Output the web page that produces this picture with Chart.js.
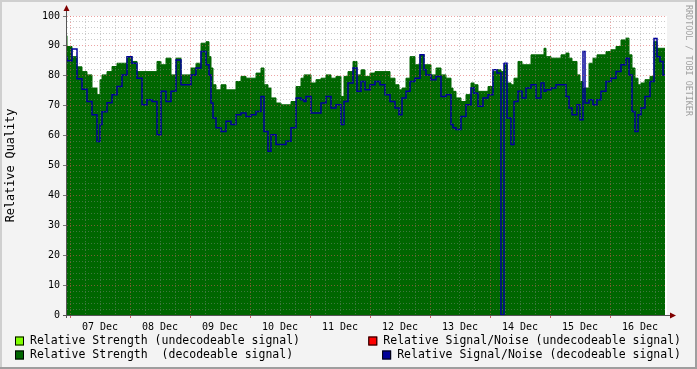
<!DOCTYPE html>
<html>
<head>
<meta charset="utf-8">
<script src="https://cdn.jsdelivr.net/npm/chart.js@4/dist/chart.umd.min.js"></script>
<style>
  html, body { margin: 0; padding: 0; background: #f3f3f3; }
  #wrap { width: 697px; height: 369px; position: relative; }
</style>
</head>
<body>
<div id="wrap"><canvas id="myChart"></canvas></div>
<script>
// hours since 07 Dec 00:00
const hours = [
  -1.2, 0.8, 2.8, 4.8, 6.8, 8.8, 10.8, 12, 12.8, 14.8, 16.8, 18.8, 20.8, 22.8,
  24.8, 26.8, 28.8, 30.8, 32.8, 34.8, 36.4, 38.4, 40.4, 42.4, 44.4, 46.4,
  48.4, 50.4, 52.4, 54.4, 55.6, 56.4, 57.2, 58.4, 60.4, 62.4, 64.4, 66.4, 68.4, 70.4,
  72.4, 74.4, 76.4, 77.6, 79.2, 80.4, 82.4, 84.4, 86.4, 88.4, 90.4, 92.4, 93.6, 94.4,
  96.4, 98.4, 100.4, 102.4, 104.4, 106.4, 108.4, 109.6, 111.2, 113.2, 114.8, 116.4, 118,
  120, 122, 124, 126, 128, 130, 131.6, 132.8, 134.4, 136, 138, 140, 141.6, 142.4,
  144.4, 146.4, 148.4, 150.4, 152.4, 153.2, 154.4, 156.4, 158.4, 160.4, 161.6, 163.2, 165.2,
  167.2, 169.2, 170.8, 172.4, 173.6, 173.8, 174.8, 176.4, 177.6, 179.2, 180.8, 182.4, 184.4,
  186.4, 188.4, 189.6, 190.4, 192.4, 194.4, 196.4, 198.4, 199.6, 200.8, 202.8, 204, 205.2,
  206, 207.6, 209.2, 210.8, 212.4, 214.4, 216.4, 218.4, 220.4, 222.4, 223.6, 224.8, 226,
  227.2, 228.4, 230, 232, 233.6, 234.8, 236, 237.2, 238
];

const strengthDecodeable = [
  93.4, 89.8, 86.4, 83, 81.4, 80.3, 75.9, 73.7, 78.7, 80.3, 81.4, 83.1, 84.2, 84.2,
  86.4, 84.8, 81.4, 81.4, 81.4, 81.4, 84.8, 83.7, 85.9, 80.3, 85.9, 80.3,
  80.3, 82.6, 84.2, 90.9, 91.4, 86.4, 82.6, 77, 75.3, 77, 75.3, 75.3, 78.1, 79.8,
  79.2, 79.2, 80.9, 82.6, 77, 75.9, 72.6, 70.9, 70.3, 70.3, 71.4, 76.4, 79.2, 80.3,
  80.3, 77.6, 78.7, 79.2, 80.3, 79.2, 79.8, 73.1, 79.8, 81.4, 84.8, 80.3, 82,
  79.8, 80.9, 81.4, 81.4, 81.4, 79.2, 77, 75.3, 75.9, 79.2, 86.4, 83.7, 87, 83.7,
  83.7, 80.3, 82.6, 80.3, 79.2, 75.9, 74.8, 72.6, 71.4, 73.7, 77.6, 77, 74.8,
  74.8, 76.4, 81.4, 82, 81.4, 82, 83.7, 77.6, 77, 79.2, 84.8, 83.7, 83.7,
  87, 87, 87, 89.2, 86.4, 85.9, 85.9, 87, 87.6, 85.9, 84.8, 80.3, 78.1,
  75.9, 75.9, 84.2, 85.9, 87, 87, 88.1, 88.7, 89.8, 92, 92.6, 87, 82.6,
  79.2, 77, 77.6, 78.7, 79.8, 91.4, 89.2, 89.2, 89.2
];

const snrDecodeable = [
  86.5, 85, 89, 79, 75.5, 71.4, 67, 58, 63.7, 68, 71, 73.7, 76.4, 80.3,
  86.4, 84.2, 79.2, 70.3, 72, 71.4, 60.3, 74.8, 71.4, 74.8, 85.3, 77,
  77, 80.3, 82.6, 88.1, 83.7, 80.3, 70.9, 65.9, 62.6, 61.4, 64.8, 63.7, 67, 67.6,
  66.4, 67, 68.1, 73.1, 61.4, 54.8, 60.3, 57, 57, 58.1, 62.6, 72.6, 72, 71.4,
  73.1, 67.6, 67.6, 70.9, 73.1, 69.2, 70.3, 63.7, 71.4, 77.6, 82.6, 74.8, 78.1,
  75.3, 77, 78.1, 77, 73.7, 71.4, 69.2, 67, 72.6, 74.8, 78.1, 79.2, 87, 82,
  80.3, 78.7, 79.8, 73.1, 73.7, 63.7, 62.6, 62, 66.4, 70.3, 75.9, 74.2, 69.8,
  72.6, 73.7, 82, 80.9, 0, 84, 84.2, 65.9, 57, 71.4, 74.8, 72.6, 75.9,
  77, 72.6, 77.6, 74.8, 75.3, 75.9, 77, 77, 73.1, 69.2, 67, 70.3, 65.3,
  88.1, 70.9, 72, 70.3, 72, 74.8, 78.1, 79.2, 81.4, 83.7, 85.9, 80.3, 68.1,
  61.4, 67, 69.2, 73.1, 78.1, 92.5, 86.4, 84.8, 80.3
];

// no readings for undecodeable signals in this period
const strengthUndecodeable = [];
const snrUndecodeable = [];

const dayLabels = ['07 Dec', '08 Dec', '09 Dec', '10 Dec', '11 Dec', '12 Dec', '13 Dec', '14 Dec', '15 Dec', '16 Dec'];

const MONO = "'DejaVu Sans Mono', monospace";
Chart.defaults.font.family = MONO;
Chart.defaults.color = '#000';

const toPoints = vals => vals.map((v, i) => ({x: hours[i], y: v}));

const rrdPlugin = {
  id: 'rrd',
  beforeDraw(chart) {
    const {ctx, width, height, chartArea: a} = chart;
    ctx.save();
    ctx.fillStyle = '#f3f3f3';
    ctx.fillRect(0, 0, width, height);
    // frame shading
    ctx.fillStyle = '#cfcfcf';
    ctx.fillRect(0, 0, width, 2);
    ctx.fillRect(0, 0, 2, height);
    ctx.fillStyle = '#9e9e9e';
    ctx.fillRect(0, height - 2, width, 2);
    ctx.fillRect(width - 2, 0, 2, height);
    ctx.fillStyle = '#fff';
    ctx.fillRect(a.left, a.top, a.right - a.left, a.bottom - a.top);
    ctx.restore();
  },
  afterDraw(chart) {
    const {ctx, chartArea: a} = chart;
    ctx.save();
    // axes
    ctx.strokeStyle = '#555';
    ctx.lineWidth = 1;
    ctx.beginPath();
    ctx.moveTo(a.left - 0.5, a.bottom + 3);
    ctx.lineTo(a.left - 0.5, a.top - 6);
    ctx.moveTo(a.left - 4, a.bottom + 0.5);
    ctx.lineTo(a.right + 4, a.bottom + 0.5);
    ctx.stroke();
    ctx.fillStyle = '#800000';
    ctx.beginPath();
    ctx.moveTo(a.left - 0.5, a.top - 11);
    ctx.lineTo(a.left - 3.5, a.top - 5);
    ctx.lineTo(a.left + 2.5, a.top - 5);
    ctx.closePath();
    ctx.fill();
    ctx.beginPath();
    ctx.moveTo(a.right + 9, a.bottom + 0.5);
    ctx.lineTo(a.right + 3, a.bottom - 2.5);
    ctx.lineTo(a.right + 3, a.bottom + 3.5);
    ctx.closePath();
    ctx.fill();

    // watermark
    ctx.save();
    ctx.translate(688, 5);
    ctx.rotate(Math.PI / 2);
    ctx.fillStyle = '#a0a0a0';
    ctx.font = '8.4px ' + MONO;
    ctx.textBaseline = 'middle';
    ctx.textAlign = 'left';
    ctx.fillText('RRDTOOL / TOBI OETIKER', 0, 0);
    ctx.restore();

    // legend
    ctx.font = '11.5px ' + MONO;
    ctx.textBaseline = 'middle';
    ctx.textAlign = 'left';
    const ds = chart.data.datasets;
    const items = [
      {d: ds[0], row: 0, right: false},
      {d: ds[2], row: 0, right: true},
      {d: ds[1], row: 1, right: false},
      {d: ds[3], row: 1, right: true}
    ];
    items.forEach(it => {
      const y = 341 + it.row * 14;
      const w = ctx.measureText(it.d.label).width;
      const tx = it.right ? 681 - w : 30;
      const bx = tx - 15;
      ctx.fillStyle = it.d.legendColor;
      ctx.fillRect(bx, y - 4.5, 9, 9);
      ctx.strokeStyle = '#000';
      ctx.strokeRect(bx + 0.5, y - 4, 8, 8);
      ctx.fillStyle = '#000';
      ctx.fillText(it.d.label, tx, y);
    });
    ctx.restore();
  }
};

const chart = new Chart(document.getElementById('myChart'), {
  type: 'line',
  data: {
    datasets: [
      {
        label: 'Relative Strength (undecodeable signal)',
        data: toPoints(strengthUndecodeable),
        legendColor: '#80ff00',
        backgroundColor: '#80ff00',
        borderColor: '#80ff00',
        borderWidth: 0,
        fill: 'origin',
        stepped: 'after',
        pointRadius: 0,
        order: 3
      },
      {
        label: 'Relative Strength  (decodeable signal)',
        data: toPoints(strengthDecodeable),
        legendColor: '#006600',
        backgroundColor: '#006600',
        borderColor: '#006600',
        borderWidth: 1,
        fill: 'origin',
        stepped: 'after',
        pointRadius: 0,
        order: 4
      },
      {
        label: 'Relative Signal/Noise (undecodeable signal)',
        data: toPoints(snrUndecodeable),
        legendColor: '#ff0000',
        borderColor: '#ff0000',
        borderWidth: 1.5,
        fill: false,
        stepped: 'after',
        pointRadius: 0,
        order: 1
      },
      {
        label: 'Relative Signal/Noise (decodeable signal)',
        data: toPoints(snrDecodeable),
        legendColor: '#000099',
        borderColor: '#000099',
        borderWidth: 1.5,
        fill: false,
        stepped: 'after',
        pointRadius: 0,
        order: 0
      }
    ]
  },
  options: {
    responsive: true,
    maintainAspectRatio: false,
    animation: false,
    devicePixelRatio: 1,
    layout: {padding: {top: 16, right: 30, bottom: 34, left: 0}},
    plugins: {legend: {display: false}, tooltip: {enabled: false}},
    scales: {
      x: {
        type: 'linear',
        min: -1.2,
        max: 238.8,
        afterFit: s => { s.height = 20; },
        afterBuildTicks: s => {
          const t = [];
          for (let h = 0; h <= 234; h += 6) t.push({value: h});
          s.ticks = t;
        },
        border: {display: false, dash: [1, 2]},
        grid: {
          z: 1,
          color: c => c.tick && c.tick.value % 24 === 0 ? 'rgba(220,90,90,0.55)' : 'rgba(140,140,140,0.45)',
          tickColor: c => c.tick && c.tick.value % 24 === 0 ? 'rgba(200,60,60,0.8)' : 'rgba(0,0,0,0)',
          tickLength: 3
        },
        ticks: {
          autoSkip: false,
          maxRotation: 0,
          padding: 3,
          font: {size: 10},
          callback: v => (v % 24 === 12 ? dayLabels[(v - 12) / 24] : '')
        }
      },
      y: {
        min: 0,
        max: 100,
        afterFit: s => { s.width = 67; },
        border: {display: false, dash: [1, 2]},
        grid: {
          z: 1,
          color: c => c.tick && c.tick.value % 10 === 0 ? 'rgba(220,90,90,0.55)' : 'rgba(140,140,140,0.45)',
          tickColor: c => c.tick && c.tick.value % 10 === 0 ? '#777' : 'rgba(0,0,0,0)',
          tickLength: 4
        },
        ticks: {
          stepSize: 2,
          autoSkip: false,
          padding: 3,
          font: {size: 10},
          callback: v => (v % 10 === 0 ? v : '')
        },
        title: {
          display: true,
          text: 'Relative Quality',
          font: {size: 11.8},
          padding: {top: 4, bottom: 4}
        }
      }
    }
  },
  plugins: [rrdPlugin]
});
</script>
</body>
</html>
